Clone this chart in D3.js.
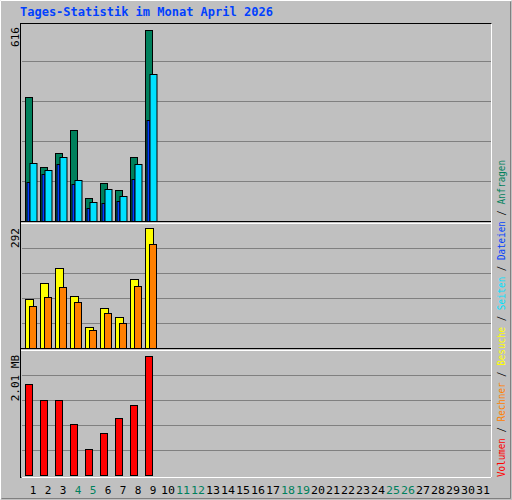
<!DOCTYPE html>
<html><head><meta charset="utf-8">
<script src="https://cdn.jsdelivr.net/npm/d3@7"></script>
<style>body{margin:0;background:#fff}text{font-family:"DejaVu Sans Mono",monospace}</style>
</head><body>
<svg id="svg" width="512" height="500"></svg>
<script>
var days = d3.range(1, 32);
var weekend = [4, 5, 11, 12, 18, 19, 25, 26];
var anfragen = [399, 175, 220, 294, 75, 123, 101, 207, 616];
var seiten = [188, 165, 207, 132, 62, 104, 82, 184, 474];
var dateien = [127, 152, 182, 120, 43, 59, 65, 136, 324];
var besuche = [119, 158, 195, 127, 51, 97, 75, 168, 292];
var rechner = [102, 124, 148, 112, 44, 85, 61, 151, 253];
var volumen = [1.54, 1.27, 1.27, 0.86, 0.44, 0.71, 0.96, 1.18, 2.01];
var maxLabels = ["616", "292", "2.01 MB"];

var svg = d3.select("#svg");
svg.append("rect").attr("x", 0).attr("y", 0).attr("width", 512).attr("height", 500).attr("fill", "#c0c0c0");
svg.append("path").attr("d", "M0.5,499.5V0.5H511.5").attr("stroke", "#fff").attr("fill", "none");
svg.append("path").attr("d", "M1.5,498.5H510.5V1.5").attr("stroke", "#808080").attr("fill", "none");

svg.append("text").attr("x", 20).attr("y", 16).attr("fill", "#0040ff")
	.attr("font-weight", "bold").attr("font-size", 12).text("Tages-Statistik im Monat April 2026");

var x = d3.scaleLinear().domain([1, 31]).range([25, 475]);
var left = 21, right = 491;

// chart frame
svg.append("rect").attr("x", left - 0.5).attr("y", 23.5).attr("width", right - left + 1).attr("height", 454)
	.attr("fill", "none").attr("stroke", "#000");
svg.append("path").attr("d", "M" + (left + 0.5) + ",477.5H" + (right + 0.5) + "V23.5").attr("stroke", "#fff").attr("fill", "none");

var panels = [
	{top: 25, bottom: 221, max: 616, px: 191.4, step: 40},
	{top: 226, bottom: 348.3, max: 292, px: 120, step: 25},
	{top: 353, bottom: 475.3, max: 2.01, px: 119, step: 25}
];
panels.forEach(function(p, i) {
	p.y = d3.scaleLinear().domain([0, p.max]).range([p.bottom, p.bottom - p.px]);
	for (var g = p.bottom - p.step; g > p.top + 5; g -= p.step) {
		svg.append("line").attr("x1", left + 1).attr("x2", right).attr("y1", Math.round(g) + 0.5).attr("y2", Math.round(g) + 0.5)
			.attr("stroke", "#808080");
	}
	svg.append("text").attr("transform", "translate(19," + (p.top + 2) + ") rotate(-90)")
		.attr("text-anchor", "end").attr("font-size", 11).attr("fill", "#000").text(maxLabels[i]);
});
// separators
[222.5, 349.5].forEach(function(yy) {
	svg.append("line").attr("x1", left).attr("x2", right).attr("y1", yy - 1).attr("y2", yy - 1).attr("stroke", "#000");
	svg.append("line").attr("x1", left).attr("x2", right).attr("y1", yy + 1).attr("y2", yy + 1).attr("stroke", "#fff");
});

function bars(data, p, dx, w, color) {
	svg.append("g").selectAll("rect").data(data).enter().append("rect")
		.attr("x", function(d, i) { return x(i + 1) + dx + 0.5; })
		.attr("y", function(d) { return Math.round(p.y(d)) + 0.5; })
		.attr("width", w)
		.attr("height", function(d) { return Math.round(p.bottom - p.y(d)); })
		.attr("fill", color).attr("stroke", "#000");
}
bars(anfragen, panels[0], 0, 7, "#00805c");
bars(dateien, panels[0], 1.5, 3, "#0040ff");
bars(seiten, panels[0], 4.5, 7, "#00e0ff");
bars(besuche, panels[1], 0, 8, "#ffff00");
bars(rechner, panels[1], 4, 7, "#ff8000");
bars(volumen, panels[2], 0, 7, "#ff0000");

svg.append("g").selectAll("text").data(days).enter().append("text")
	.attr("x", function(d) { return x(d) + 8; }).attr("y", 494).attr("text-anchor", "middle").attr("font-size", 11)
	.attr("fill", function(d) { return weekend.indexOf(d) >= 0 ? "#00805c" : "#000"; })
	.attr("textLength", function(d) { return d > 9 ? 14 : null; }).attr("lengthAdjust", "spacingAndGlyphs")
	.text(function(d) { return d; });

var legend = [["Volumen", "#ff0000"], ["Rechner", "#ff8000"], ["Besuche", "#ffff00"],
	["Seiten", "#00e0ff"], ["Dateien", "#0040ff"], ["Anfragen", "#00805c"]];
var lt = svg.append("text").attr("transform", "translate(505,477) rotate(-90)").attr("font-size", 11)
	.attr("textLength", 317).attr("lengthAdjust", "spacingAndGlyphs");
legend.forEach(function(l, i) {
	if (i > 0) lt.append("tspan").attr("fill", "#000").text(" / ");
	lt.append("tspan").attr("fill", l[1]).text(l[0]);
});
</script>
</body></html>
